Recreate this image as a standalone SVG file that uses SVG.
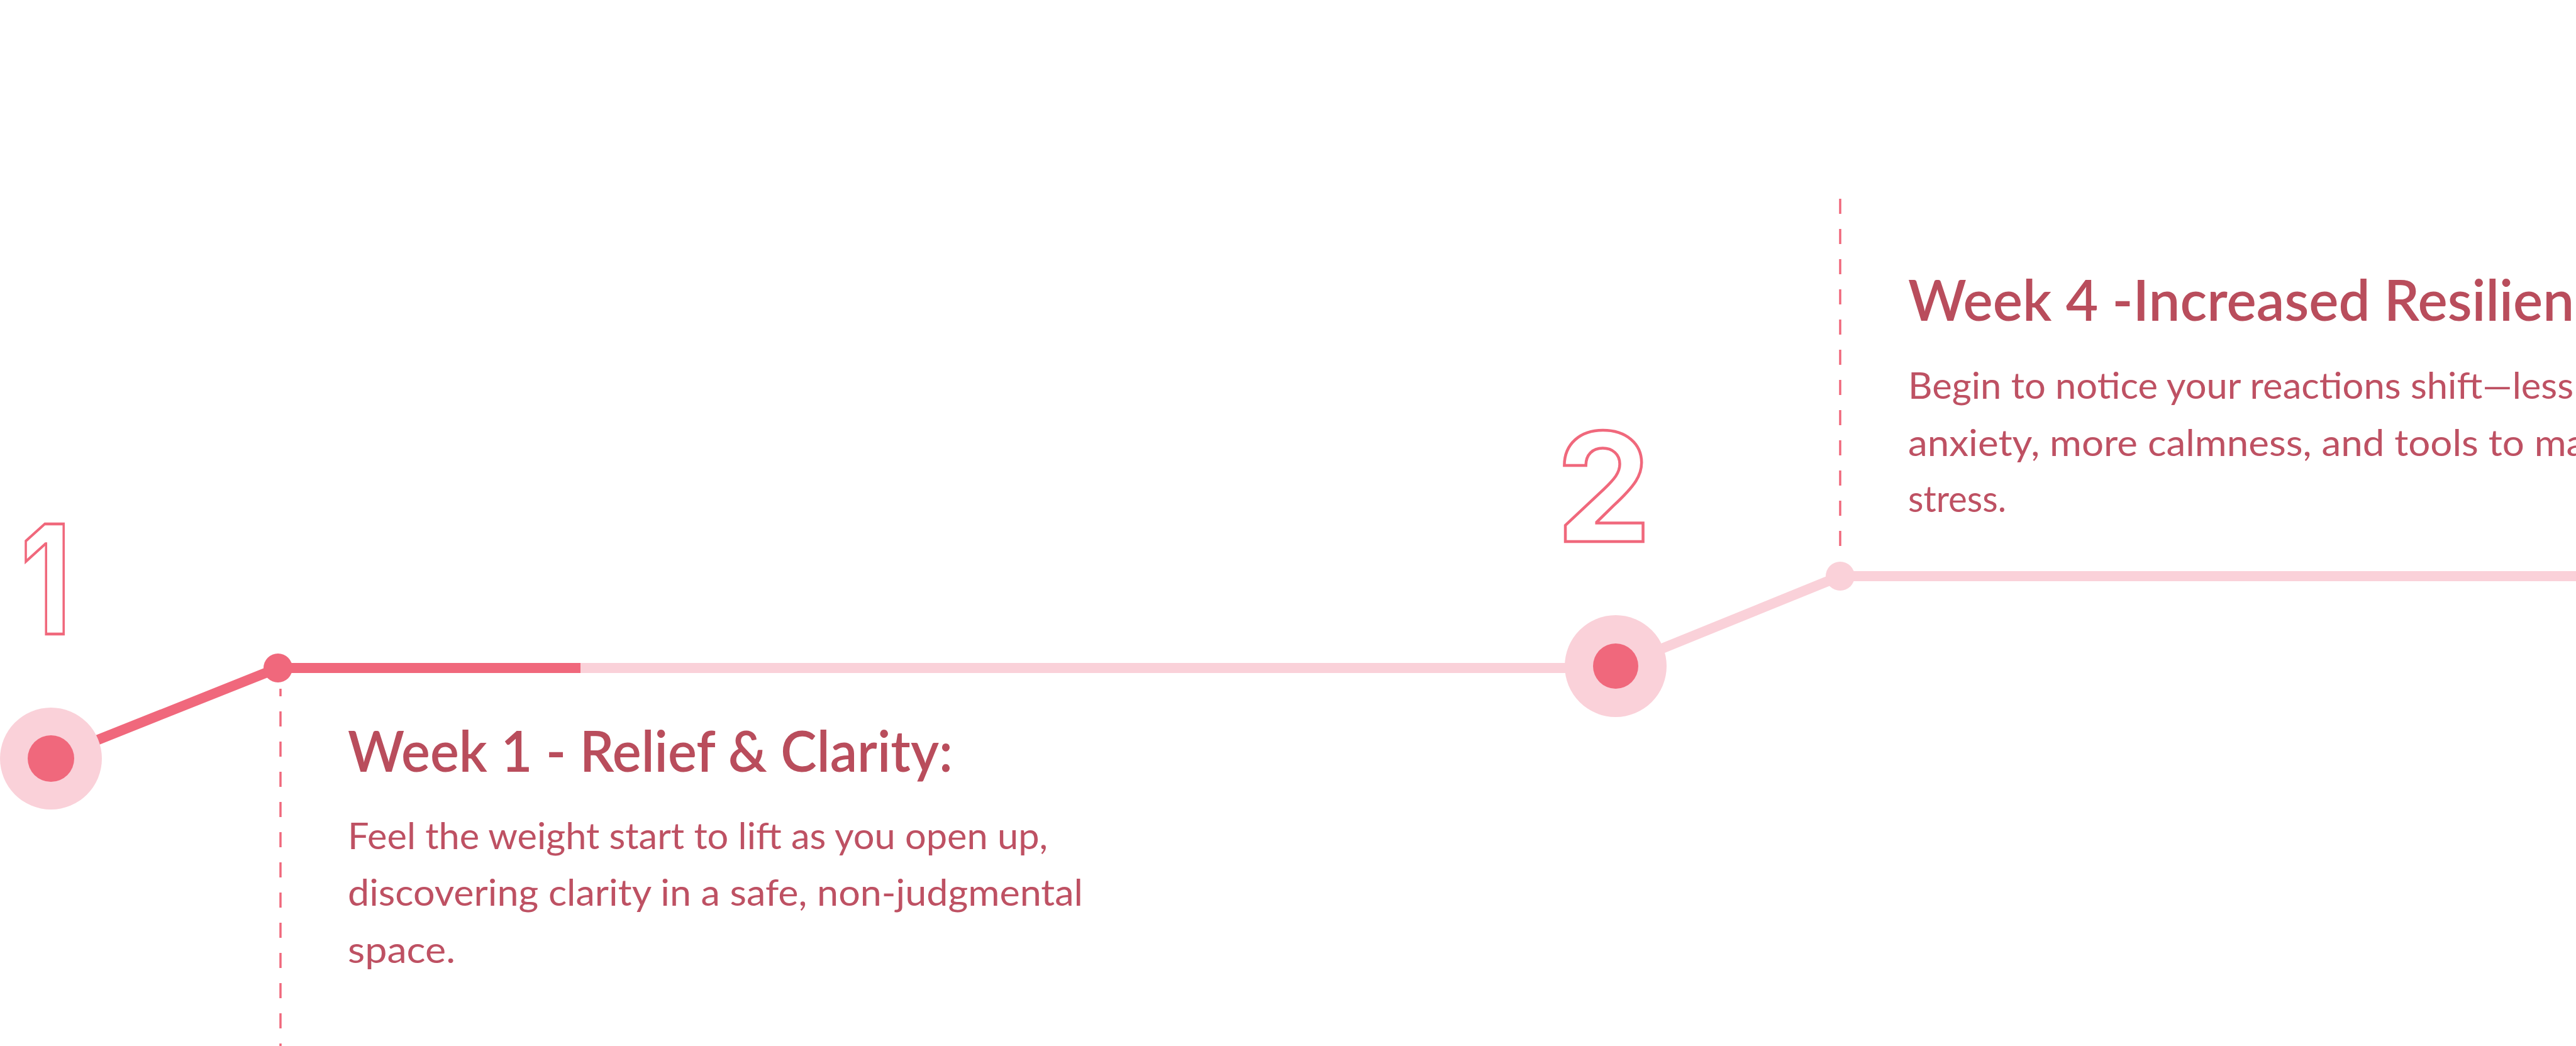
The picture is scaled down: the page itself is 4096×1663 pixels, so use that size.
<svg xmlns="http://www.w3.org/2000/svg" width="4096" height="1663" viewBox="0 0 4096 1663">
<style>
.dark{stroke:#F0687C;stroke-width:16;fill:none;stroke-linecap:butt}
.light{stroke:#FAD1D9;stroke-width:16;fill:none}
.dash{stroke:#F0687C;stroke-width:3.5;stroke-dasharray:24 24;fill:none}
.title{font-family:"Lato","Liberation Sans",sans-serif;font-weight:600;font-size:90px;fill:#B94D5C}
.body{font-family:"Lato","Liberation Sans",sans-serif;font-weight:400;font-size:58px;fill:#BE5163}
.num{font-family:"Inter","Liberation Sans",sans-serif;font-weight:700;font-size:240px;fill:#FFFFFF;stroke:#F0687C;stroke-width:4.5}
</style>
<rect width="4096" height="1663" fill="#FFFFFF"/>
<g id="connectors">
<line class="light" x1="442" y1="1062" x2="2569" y2="1062"/>
<line class="dark" x1="442" y1="1062" x2="923" y2="1062"/>
<line class="dark" x1="81" y1="1206" x2="442" y2="1062"/>
<line class="light" x1="2569" y1="1061" x2="2926" y2="916"/>
<line class="light" x1="2926" y1="916" x2="4096" y2="916"/>
<line class="dash" x1="446" y1="1095" x2="446" y2="1663" style="stroke-dashoffset:12"/>
<line class="dash" x1="2926" y1="316" x2="2926" y2="888"/>
</g>
<g id="node-1">
<circle cx="81" cy="1206" r="81" fill="#FAD1D9"/>
<circle cx="81" cy="1206" r="37" fill="#F0687C"/>
<text class="num" x="73" y="1008" text-anchor="middle" textLength="81" lengthAdjust="spacingAndGlyphs">1</text>
</g>
<g id="dot-1">
<circle cx="442" cy="1062" r="23" fill="#F0687C"/>
</g>
<g id="week-1">
<text class="title" x="553" y="1227" textLength="962" lengthAdjust="spacingAndGlyphs">Week 1 - Relief &amp; Clarity:</text>
<text class="body" x="553" y="1350" textLength="1113" lengthAdjust="spacingAndGlyphs">Feel the weight start to lift as you open up,</text>
<text class="body" x="553" y="1440" textLength="1169" lengthAdjust="spacingAndGlyphs">discovering clarity in a safe, non-judgmental</text>
<text class="body" x="553" y="1531" textLength="171" lengthAdjust="spacingAndGlyphs">space.</text>
</g>
<g id="node-2">
<circle cx="2569" cy="1059" r="81" fill="#FAD1D9"/>
<circle cx="2569" cy="1059" r="36" fill="#F0687C"/>
<text class="num" x="2550" y="861" text-anchor="middle">2</text>
</g>
<g id="dot-2">
<circle cx="2926" cy="916" r="23" fill="#FAD1D9"/>
</g>
<g id="week-4">
<text class="title" x="3034" y="510" textLength="1171" lengthAdjust="spacingAndGlyphs">Week 4 -Increased Resilience:</text>
<text class="body" x="3034" y="634" textLength="1058" lengthAdjust="spacingAndGlyphs">Begin to notice your reactions shift—less</text>
<text class="body" x="3034" y="725" textLength="1207" lengthAdjust="spacingAndGlyphs">anxiety, more calmness, and tools to manage</text>
<text class="body" x="3034" y="814" textLength="156" lengthAdjust="spacingAndGlyphs">stress.</text>
</g>
</svg>
